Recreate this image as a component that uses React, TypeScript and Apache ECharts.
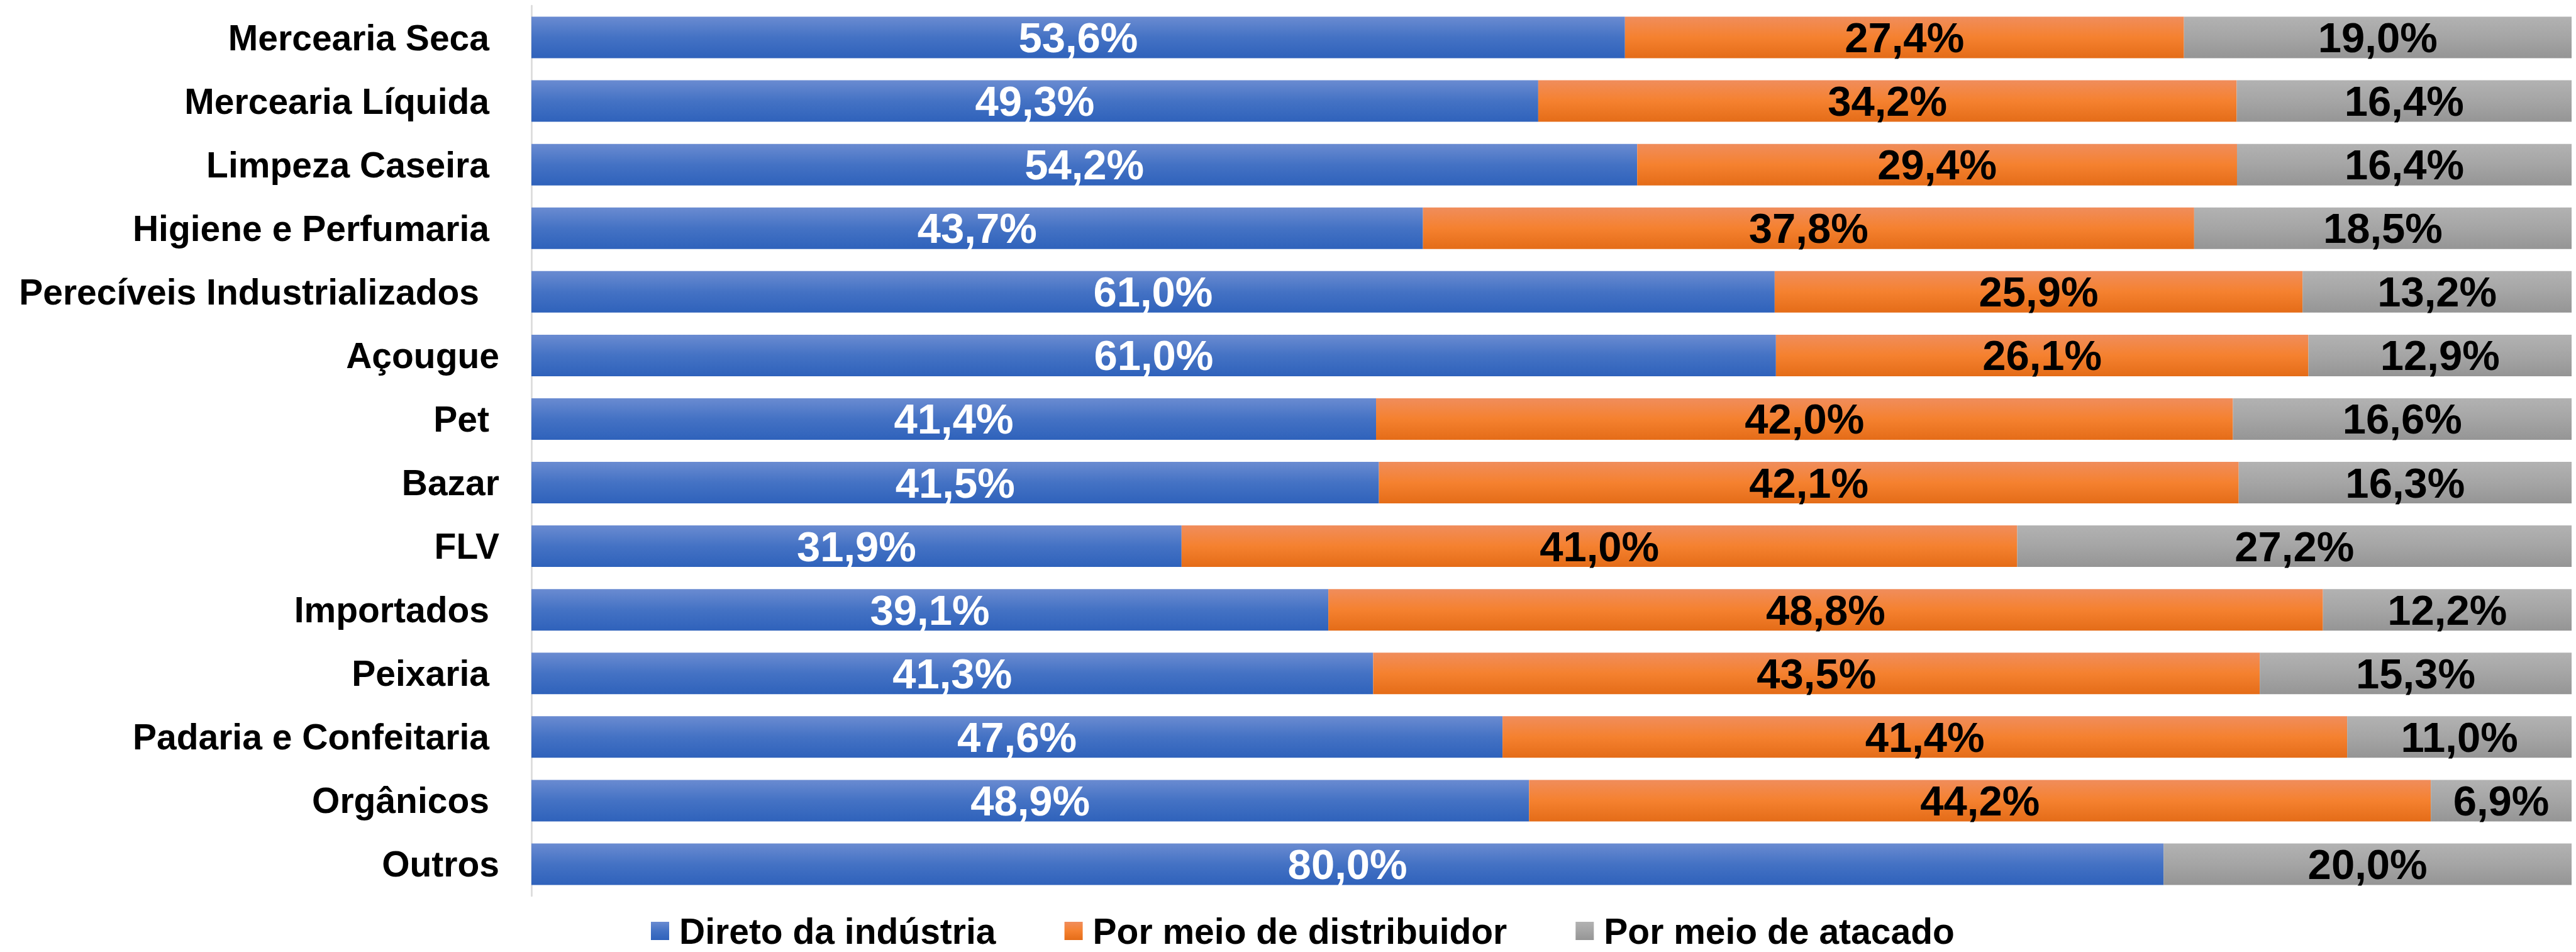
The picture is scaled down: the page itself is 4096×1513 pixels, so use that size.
import React, { useEffect, useRef } from "react";
import * as echarts from "echarts";

const categories = [
  "Mercearia Seca",
  "Mercearia Líquida",
  "Limpeza Caseira",
  "Higiene e Perfumaria",
  "Perecíveis Industrializados",
  "Açougue",
  "Pet",
  "Bazar",
  "FLV",
  "Importados",
  "Peixaria",
  "Padaria e Confeitaria",
  "Orgânicos",
  "Outros",
];

const seriesNames = ["Direto da indústria", "Por meio de distribuidor", "Por meio de atacado"];

const diretoIndustria = [53.6, 49.3, 54.2, 43.7, 61.0, 61.0, 41.4, 41.5, 31.9, 39.1, 41.3, 47.6, 48.9, 80.0];
const meioDistribuidor = [27.4, 34.2, 29.4, 37.8, 25.9, 26.1, 42.0, 42.1, 41.0, 48.8, 43.5, 41.4, 44.2, 0];
const meioAtacado = [19.0, 16.4, 16.4, 18.5, 13.2, 12.9, 16.6, 16.3, 27.2, 12.2, 15.3, 11.0, 6.9, 20.0];

// trailing spaces present in the original category labels (layout only)
const trailingSpaces = [1, 1, 1, 1, 2, 0, 1, 0, 0, 1, 1, 1, 1, 0];

const FONT = "'Liberation Sans', Arial, sans-serif";

const grad = (c0: string, c1: string, c2: string) =>
  new echarts.graphic.LinearGradient(0, 0, 0, 1, [
    { offset: 0, color: c0 },
    { offset: 0.5, color: c1 },
    { offset: 1, color: c2 },
  ]);

export default function App() {
  const ref = useRef<HTMLDivElement>(null);

  useEffect(() => {
    document.body.style.margin = "0";
    if (!ref.current) return;
    const chart = echarts.init(ref.current, null, { renderer: "svg" });

    const allSeries = [diretoIndustria, meioDistribuidor, meioAtacado];
    const totals = categories.map((_, i) => allSeries.reduce((s, arr) => s + arr[i], 0));

    const colors = [
      grad("#6a8bd1", "#4472c4", "#2f62bb"),
      grad("#f08d5c", "#f5812f", "#e46c18"),
      grad("#b2b2b2", "#a5a5a5", "#959595"),
    ];
    const labelColors = ["#ffffff", "#000000", "#000000"];

    const rich: Record<string, any> = {};
    [0, 1, 2].forEach((n) => {
      rich["p" + n] = {
        fontFamily: FONT,
        fontWeight: "bold",
        fontSize: 57,
        color: "#000",
        padding: [0, n * 16, 0, 0],
      };
    });

    chart.setOption({
      animation: false,
      backgroundColor: "#ffffff",
      grid: { left: 845, right: 7, top: 9, bottom: 89, containLabel: false },
      legend: {
        data: seriesNames,
        left: 1030,
        top: 1446,
        itemWidth: 29,
        itemHeight: 29,
        itemGap: 109,
        icon: "rect",
        textStyle: {
          fontFamily: FONT,
          fontWeight: "bold",
          fontSize: 57,
          color: "#000",
          lineHeight: 57,
          padding: [0, 0, 0, 11],
        },
      },
      xAxis: {
        type: "value",
        min: 0,
        max: 100,
        show: false,
        splitLine: { show: false },
      },
      yAxis: {
        type: "category",
        data: categories,
        inverse: true,
        axisLine: { show: true, lineStyle: { color: "#d9d9d9", width: 2.5 } },
        axisTick: { show: false },
        axisLabel: {
          margin: 51,
          formatter: (v: string, idx: number) => `{p${trailingSpaces[idx]}|${v}}`,
          rich,
        },
      },
      series: allSeries.map((arr, s) => ({
        name: seriesNames[s],
        type: "bar",
        stack: "total",
        barWidth: 66,
        itemStyle: { color: colors[s] },
        label: {
          show: true,
          position: "inside",
          fontFamily: FONT,
          fontWeight: "bold",
          fontSize: 67,
          color: labelColors[s],
          formatter: (p: any) =>
            p.data.raw > 0 ? p.data.raw.toFixed(1).replace(".", ",") + "%" : "",
        },
        data: arr.map((v, i) => ({ value: (v / totals[i]) * 100, raw: v })),
      })),
    });

    return () => chart.dispose();
  }, []);

  return <div ref={ref} style={{ width: 4096, height: 1513 }} />;
}
